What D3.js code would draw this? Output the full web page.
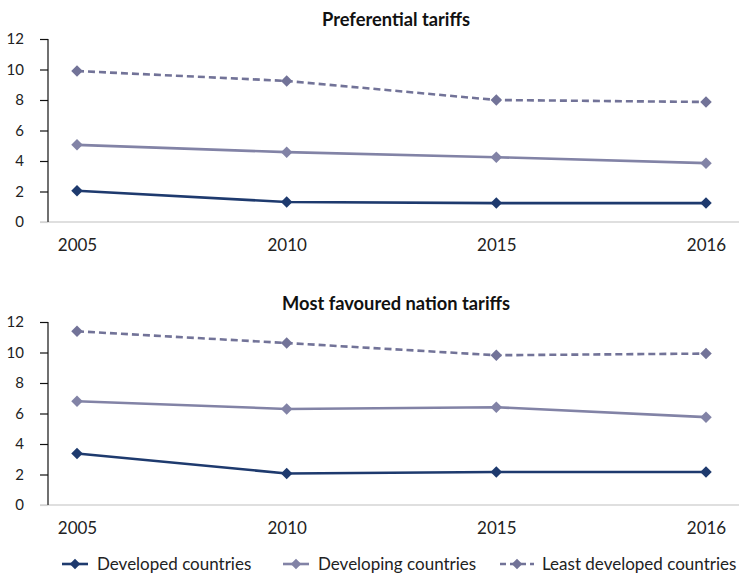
<!DOCTYPE html>
<html>
<head>
<meta charset="utf-8">
<script src="https://cdn.jsdelivr.net/npm/d3@7"></script>
<style>
body{margin:0;background:#fff;}
text{font-family:Lato, "Open Sans", sans-serif;}
</style>
</head>
<body>
<svg id="chart" width="739" height="574"></svg>
<script>
const years = ["2005","2010","2015","2016"];
const seriesNames = ["Developed countries","Developing countries","Least developed countries"];
const prefDeveloped = [2.05, 1.31, 1.24, 1.24];
const prefDeveloping = [5.06, 4.58, 4.25, 3.86];
const prefLDC = [9.9, 9.25, 8.0, 7.87];
const mfnDeveloped = [3.38, 2.07, 2.16, 2.16];
const mfnDeveloping = [6.8, 6.3, 6.41, 5.76];
const mfnLDC = [11.39, 10.62, 9.82, 9.93];
const yTicks = [0,2,4,6,8,10,12];
const titles = ["Preferential tariffs","Most favoured nation tariffs"];

const colors = ["#1e3a6e","#8283a6","#727398"];
const dashes = [null,null,"7,4"];

const svg = d3.select("#chart");
const panels = [
  {title: titles[0], data:[prefDeveloped,prefDeveloping,prefLDC], top:39, bottom:222, titleY:26},
  {title: titles[1], data:[mfnDeveloped,mfnDeveloping,mfnLDC], top:322, bottom:505, titleY:310}
];

const x = d3.scalePoint().domain(years).range([77,706]);
const diamond = d3.symbol(d3.symbolSquare,66)();

panels.forEach(p => {
  const y = d3.scaleLinear().domain([0,12]).range([p.bottom,p.top]);
  const g = svg.append("g");
  g.append("text").attr("x",396).attr("y",p.titleY).attr("text-anchor","middle")
    .attr("font-weight","bold").attr("font-size",18.3).attr("fill","#111").text(p.title);
  // baseline
  g.append("line").attr("x1",40).attr("x2",739).attr("y1",y(0)).attr("y2",y(0))
    .attr("stroke","#d4d4d4").attr("stroke-width",1.5);
  const ax = g.append("g").attr("transform","translate(48,0)")
    .call(d3.axisLeft(y).tickValues(yTicks).tickSize(8).tickPadding(16).tickFormat(d3.format("d")));
  ax.select(".domain").attr("stroke","#111").attr("stroke-width",1.2).attr("d",`M0,${y(0)}V${y(12)}`);
  ax.selectAll(".tick line").attr("stroke","#111").attr("stroke-width",1.2);
  ax.selectAll(".tick").filter(d=>d===0).select("line").attr("stroke","#d4d4d4");
  ax.selectAll(".tick text").attr("font-size",15).attr("fill","#222")
    .attr("font-family","Lato, sans-serif");
  const xa = g.append("g").attr("transform",`translate(0,${y(0)})`)
    .call(d3.axisBottom(x).tickSize(0).tickPadding(17));
  xa.select(".domain").remove();
  xa.selectAll(".tick text").attr("font-size",17).attr("fill","#222").attr("font-family","Lato, sans-serif");

  const line = d3.line().x((d,i)=>x(years[i])).y(d=>y(d));
  p.data.slice().reverse().forEach((vals,ri) => {
    const si = 2-ri;
    g.append("path").attr("d",line(vals)).attr("fill","none")
      .attr("stroke",colors[si]).attr("stroke-width",2.6)
      .attr("stroke-dasharray",dashes[si]);
    g.selectAll(null).data(vals).enter().append("path")
      .attr("d",diamond)
      .attr("transform",(d,i)=>`translate(${x(years[i])},${y(d)}) rotate(45)`)
      .attr("fill",colors[si]);
  });
});

// legend
const legX = [62, 283, 500];
const legY = 564;
seriesNames.forEach((n,i)=>{
  const g = svg.append("g").attr("transform",`translate(${legX[i]},${legY})`);
  g.append("line").attr("x1",0).attr("x2",i===2?34:26).attr("y1",0).attr("y2",0)
    .attr("stroke",colors[i]).attr("stroke-width",2.6).attr("stroke-dasharray",i===2?"6,4":null);
  g.append("path").attr("d",d3.symbol(d3.symbolSquare,56)())
    .attr("transform",`translate(${i===2?17:13},0) rotate(45)`).attr("fill",colors[i]);
  g.append("text").attr("x",i===2?42:35).attr("y",6).attr("font-size",17).attr("fill","#222").text(n);
});
</script>
</body>
</html>
